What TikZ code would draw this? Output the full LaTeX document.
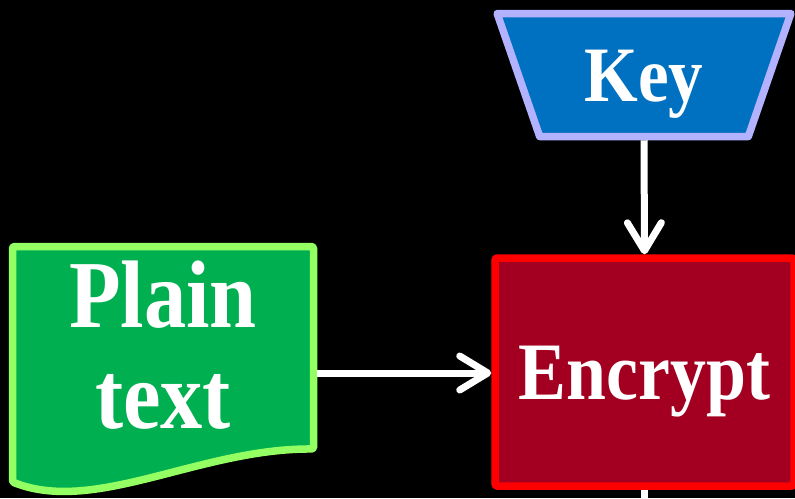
\documentclass[tikz,border=0pt]{standalone}
\usepackage{fontspec}
\newfontfamily\lblfont{Liberation Serif}[FakeStretch=0.88]
\usetikzlibrary{arrows.meta,shapes.geometric}

\definecolor{keyfill}{RGB}{0,112,192}
\definecolor{keyedge}{RGB}{178,178,255}
\definecolor{docfill}{RGB}{0,176,80}
\definecolor{docedge}{RGB}{148,255,98}
\definecolor{encfill}{RGB}{163,0,33}
\definecolor{encedge}{RGB}{255,0,0}

\tikzset{
  lbl/.style={font=\lblfont\bfseries, text=white, inner sep=0pt},
  border/.style={line width=7.5pt, line join=round},
  keybox/.style={lbl, border, trapezium, trapezium angle=65,
    shape border rotate=180, trapezium stretches=true,
    minimum width=294pt, minimum height=123pt,
    draw=keyedge, fill=keyfill},
  encbox/.style={lbl, border, rectangle, rounded corners=1.5pt,
    minimum width=299pt, minimum height=228pt,
    draw=encedge, fill=encfill},
  docshape/.style={border, draw=docedge, fill=docfill, rounded corners=1.5pt},
  flow/.style={draw=white, line width=7pt,
    -{Straight Barb[length=28pt, width=34pt, round]}},
  plain/.style={draw=white, line width=7pt}
}

\begin{document}
\begin{tikzpicture}[x=1pt, y=-1pt]
  \path[use as bounding box, fill=black] (0,0) rectangle (795,498);
  \clip (0,0) rectangle (795,498);

  % input document with wavy lower edge
  \path[docshape] (12.5,482) -- (12.5,246.5) -- (313.5,246.5) -- (313.5,449)
    .. controls (200,448) and (95,515) .. cycle;
  \node[inner sep=0pt, outer sep=3.75pt, minimum width=301pt,
        minimum height=253pt] (doc) at (163,373) {};
  % the base anchor sits on the last line
  \node[lbl, align=center, font=\lblfont\bfseries\fontsize{96}{101}\selectfont,
        anchor=base] (doctext) at (163,428) {Plain\\text};

  % key and cipher step
  \node[keybox, font=\lblfont\bfseries\fontsize{78.5}{80}\selectfont,
        text height=52pt, text depth=0pt] (key) at (644,75) {Key};
  \node[encbox, font=\lblfont\bfseries\fontsize{81.6}{84}\selectfont,
        text height=54pt, text depth=0pt] (enc) at (644.5,372) {Encrypt};

  \coordinate (next) at (644.5,540);

  \draw[flow] (key.south) -- (enc.north);
  \draw[flow] (doc.east) -- (doc.east -| enc.west);
  \draw[plain] (enc.south) -- (next);
\end{tikzpicture}
\end{document}
